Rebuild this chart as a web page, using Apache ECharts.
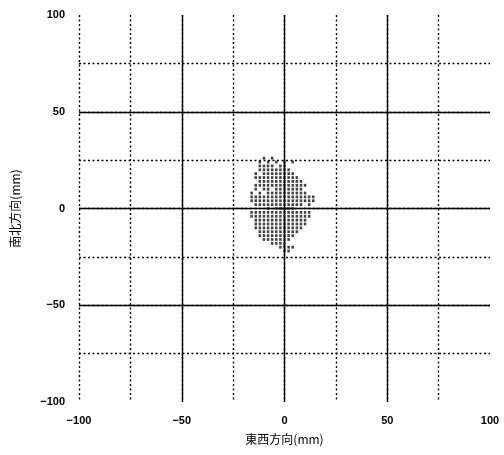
<!DOCTYPE html>
<html><head><meta charset="utf-8">
<script src="https://cdn.jsdelivr.net/npm/echarts@6/dist/echarts.min.js"></script>
<style>html,body{margin:0;padding:0;background:#fff}#c{width:504px;height:455px}</style>
</head><body><div id="c"></div>
<script>
// Data: columns of measured points (x in mm) and the y values (mm) in each column
const columnX = [-16, -14, -12, -10, -8, -6, -4, -2, 0, 2, 4, 6, 8, 10, 12, 14];
const columnY = [
  [8, 6, 4, -2, -4],
  [18, 16, 12, 10, 6, 4, 2, -2, -4, -6, -8, -10],
  [24, 22, 20, 16, 14, 12, 8, 6, 4, 2, -2, -4, -6, -8, -10, -12, -14],
  [26, 22, 20, 18, 16, 14, 12, 10, 6, 4, 2, -2, -4, -6, -8, -10, -12, -14, -16],
  [24, 22, 20, 18, 16, 14, 12, 10, 8, 6, 4, 2, 0, -2, -4, -6, -8, -10, -12, -14, -16],
  [26, 22, 20, 18, 16, 14, 12, 8, 6, 4, 2, -2, -4, -6, -8, -10, -12, -14, -16, -18],
  [24, 20, 18, 16, 14, 12, 10, 8, 6, 4, 2, 0, -2, -4, -6, -8, -10, -12, -14, -16, -18],
  [22, 20, 18, 16, 14, 12, 10, 8, 6, 4, 2, 0, -2, -4, -6, -8, -10, -12, -14, -16, -18, -20],
  [24, 22, 20, 18, 16, 14, 12, 10, 8, 6, 4, 2, 0, -2, -4, -6, -8, -10, -12, -14, -16, -18, -20, -22],
  [20, 18, 16, 14, 12, 10, 8, 6, 4, 2, 0, -2, -4, -6, -8, -10, -12, -14, -16, -20, -22],
  [24, 18, 16, 14, 12, 10, 8, 6, 4, 2, 0, -2, -4, -6, -8, -10, -12, -14, -20],
  [16, 14, 12, 10, 8, 6, 4, 2, -2, -4, -6, -8, -10, -12],
  [14, 12, 10, 8, 6, 4, 2, -2, -4, -6, -8, -10],
  [12, 8, 6, 4, -2, -4, -6, -8],
  [6, 4, 2, -2, -4],
  [6, 4]
];
const tickLabels = [-100, -50, 0, 50, 100];
const xName = '東西方向(mm)';
const yName = '南北方向(mm)';

const points = [];
columnX.forEach((x, i) => columnY[i].forEach(y => points.push([x, y])));

const fmt = v => String(v).replace('-', '−');
const labelStyle = { color: '#000', fontFamily: 'Liberation Sans, Arial, sans-serif', fontSize: 11, fontWeight: 'bold' };
const nameStyle = { color: '#000', fontFamily: 'Noto Sans CJK JP', fontSize: 12 };

const chart = echarts.init(document.getElementById('c'), null, { renderer: 'canvas' });
chart.setOption({
  backgroundColor: '#fff',
  animation: false,
  grid: { left: 79, right: 14, top: 15, bottom: 53, containLabel: false },
  xAxis: [
    { type: 'value', min: -100, max: 100, interval: 50,
      axisLine: { show: false }, axisTick: { show: false },
      axisLabel: Object.assign({ formatter: fmt, margin: 13 }, labelStyle),
      splitLine: { show: true, showMinLine: false, showMaxLine: false, lineStyle: { color: '#000', width: 1.4, type: 'solid' } },
      name: xName, nameLocation: 'middle', nameGap: 31, nameTextStyle: nameStyle, z: 3 },
    { type: 'value', min: -100, max: 100, interval: 25, position: 'bottom',
      axisLine: { show: false }, axisTick: { show: false }, axisLabel: { show: false },
      splitLine: { show: true, showMinLine: true, showMaxLine: false, lineStyle: { color: '#000', width: 1.4, type: [2, 2.5] } }, z: 2 }
  ],
  yAxis: [
    { type: 'value', min: -100, max: 100, interval: 50,
      axisLine: { show: false }, axisTick: { show: false },
      axisLabel: Object.assign({ formatter: fmt, margin: 14 }, labelStyle),
      splitLine: { show: true, showMinLine: false, showMaxLine: false, lineStyle: { color: '#000', width: 1.4, type: 'solid' } },
      name: yName, nameLocation: 'middle', nameGap: 58, nameRotate: 90, nameTextStyle: nameStyle, z: 3 },
    { type: 'value', min: -100, max: 100, interval: 25, position: 'left',
      axisLine: { show: false }, axisTick: { show: false }, axisLabel: { show: false },
      splitLine: { show: true, showMinLine: false, showMaxLine: false, lineStyle: { color: '#000', width: 1.4, type: [2, 2.5] } }, z: 2 }
  ],
  series: [{
    type: 'scatter', xAxisIndex: 0, yAxisIndex: 0,
    data: points, symbol: 'rect', symbolSize: [2.5, 2.8],
    itemStyle: { color: '#111' }, z: 5
  }]
});
</script></body></html>
